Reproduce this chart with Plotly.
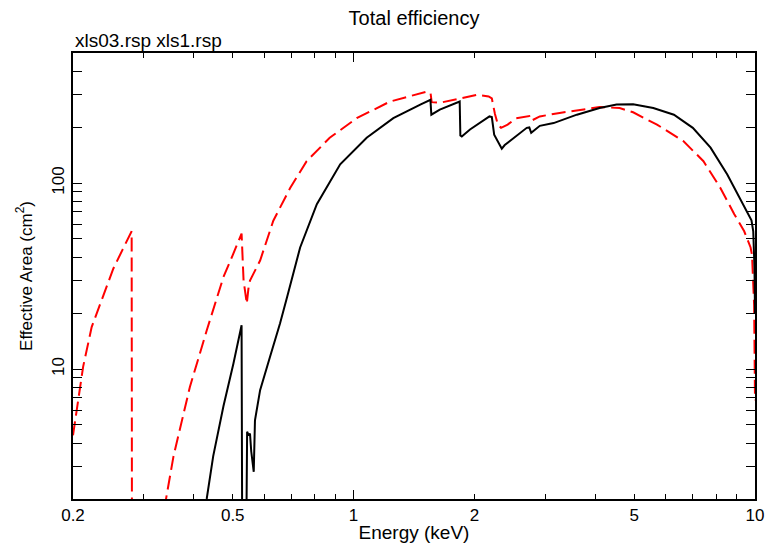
import plotly.graph_objects as go
import math

# ---- data (energy in keV, effective area in cm^2) ----
red_energy = [0.200, 0.206, 0.212, 0.2226, 0.236, 0.252, 0.266, 0.280, 0.2805, 0.300, 0.330,
              0.341, 0.356, 0.391, 0.431, 0.474, 0.500, 0.526, 0.532, 0.542, 0.547, 0.552,
              0.585, 0.631, 0.695, 0.764, 0.872, 1.018, 1.232, 1.438, 1.52, 1.555, 1.565,
              1.64, 1.844, 2.03, 2.17, 2.21, 2.25, 2.29, 2.33, 2.42, 2.54, 2.70, 2.74, 2.77,
              2.91, 3.26, 3.66, 4.10, 4.60, 4.97, 5.70, 6.63, 7.44, 8.20, 8.88, 9.40, 9.75,
              9.83, 9.95, 10.0]
red_area = [4.4, 6.6, 10.3, 16.8, 23.4, 34.6, 44.0, 55.0, 1.0, 0.5, 0.8,
            2.0, 3.4, 8.0, 16.2, 31.2, 41.0, 53.5, 30.0, 22.4, 27.0, 29.9,
            38.3, 62.7, 94.0, 131, 175, 223, 274, 298, 310, 305, 272,
            270, 286, 298, 292, 285, 235, 205, 198, 206, 223, 228, 229, 216,
            228, 238, 248, 256, 253, 240, 206, 168, 131, 94, 68, 55, 45,
            41, 22, 6.8]

black_energy = [0.4306, 0.447, 0.474, 0.502, 0.526, 0.528, 0.540, 0.543, 0.548, 0.552, 0.556,
                0.562, 0.564, 0.568, 0.585, 0.619, 0.656, 0.683, 0.701, 0.736, 0.810, 0.926,
                1.078, 1.256, 1.466, 1.554, 1.562, 1.64, 1.838, 1.845, 1.86, 1.95, 2.18, 2.21,
                2.24, 2.27, 2.30, 2.34, 2.38, 2.45, 2.70, 2.74, 2.77, 2.91, 3.15, 3.60, 4.10,
                4.52, 4.97, 5.58, 6.28, 7.00, 7.75, 8.53, 9.18, 9.80, 9.90, 9.97, 10.0]
black_area = [2.0, 3.4, 6.3, 10.7, 17.2, 1.0, 1.0, 4.6, 4.4, 4.5, 3.6,
              2.9, 2.8, 5.3, 7.7, 11.6, 17.6, 24.4, 29.9, 45.0, 76.9, 126,
              175, 223, 264, 280, 233, 248, 274, 180, 178, 194, 228, 226,
              182, 172, 164, 153, 160, 168, 198, 199, 186, 203, 210, 233, 253,
              264, 265, 253, 233, 198, 155, 111, 83, 63, 55, 35, 20]

x_label_vals = [0.2, 0.5, 1, 2, 5, 10]
x_label_text = ["0.2", "0.5", "1", "2", "5", "10"]
x_minor_vals = [0.3, 0.4, 0.6, 0.7, 0.8, 0.9, 3, 4, 6, 7, 8, 9]
x_major_vals = [1, 10]
y_major_vals = [10, 100]
y_major_text = ["10", "100"]
y_minor_vals = [2, 3, 4, 5, 6, 7, 8, 9, 20, 30, 40, 50, 60, 70, 80, 90, 200, 300, 400, 500]

x_range = [math.log10(0.2), math.log10(10)]
y_range = [math.log10(2), math.log10(500)]

FONT = "Liberation Sans, Arial, Helvetica, sans-serif"

fig = go.Figure()
fig.add_trace(go.Scatter(x=red_energy, y=red_area, mode="lines",
                         line=dict(color="#ff0000", width=2, dash="14px,6px"),
                         showlegend=False, hoverinfo="skip"))
fig.add_trace(go.Scatter(x=black_energy, y=black_area, mode="lines",
                         line=dict(color="#000000", width=2),
                         showlegend=False, hoverinfo="skip"))
# dummy trace so the overlay axis (long decade ticks) is drawn
fig.add_trace(go.Scatter(x=[None], y=[None], xaxis="x2", yaxis="y",
                         showlegend=False, hoverinfo="skip"))

fig.update_layout(
    width=766, height=543,
    margin=dict(l=73, r=11, t=53, b=44, autoexpand=False),
    paper_bgcolor="white", plot_bgcolor="white",
    font=dict(family=FONT, color="black", size=17),
    showlegend=False,
    title=dict(text="Total efficiency", x=0.5, xref="paper", xanchor="center",
               y=1 - 18 / 543, yref="container", yanchor="middle",
               font=dict(size=20, family=FONT, color="black")),
    xaxis=dict(type="log", range=x_range, showgrid=False, zeroline=False, automargin=False,
               showline=True, linecolor="black", linewidth=1.5, mirror="allticks",
               ticks="inside", ticklen=5, tickwidth=1.2, tickcolor="black",
               tickvals=x_label_vals, ticktext=x_label_text,
               tickfont=dict(size=17, family=FONT, color="black"),
               minor=dict(ticks="inside", ticklen=5, tickwidth=1.2, tickcolor="black",
                          tickvals=x_minor_vals, showgrid=False),
               title=dict(text="Energy (keV)", standoff=6,
                          font=dict(size=19, family=FONT, color="black"))),
    xaxis2=dict(type="log", range=x_range, overlaying="x", anchor="y", side="bottom",
                matches="x", showgrid=False, zeroline=False, showline=False, automargin=False,
                mirror="allticks", ticks="inside", ticklen=9, tickwidth=1.2,
                tickcolor="black", tickvals=x_major_vals, showticklabels=False),
    yaxis=dict(type="log", range=y_range, showgrid=False, zeroline=False, automargin=False,
               showline=True, linecolor="black", linewidth=1.5, mirror="allticks",
               ticks="inside", ticklen=9, tickwidth=1.2, tickcolor="black",
               tickvals=y_major_vals, ticktext=y_major_text, tickangle=-90,
               tickfont=dict(size=17, family=FONT, color="black"),
               minor=dict(ticks="inside", ticklen=5, tickwidth=1.2, tickcolor="black",
                          tickvals=y_minor_vals, showgrid=False),
               title=dict(text="Effective Area (cm<sup>2</sup>)", standoff=13,
                          font=dict(size=17, family=FONT, color="black"))),
)

fig.add_annotation(text="xls03.rsp xls1.rsp", xref="paper", yref="paper",
                   x=0, y=1, xanchor="left", yanchor="bottom", yshift=0,
                   showarrow=False, font=dict(size=19, family=FONT, color="black"))

fig.write_html("out.html")
